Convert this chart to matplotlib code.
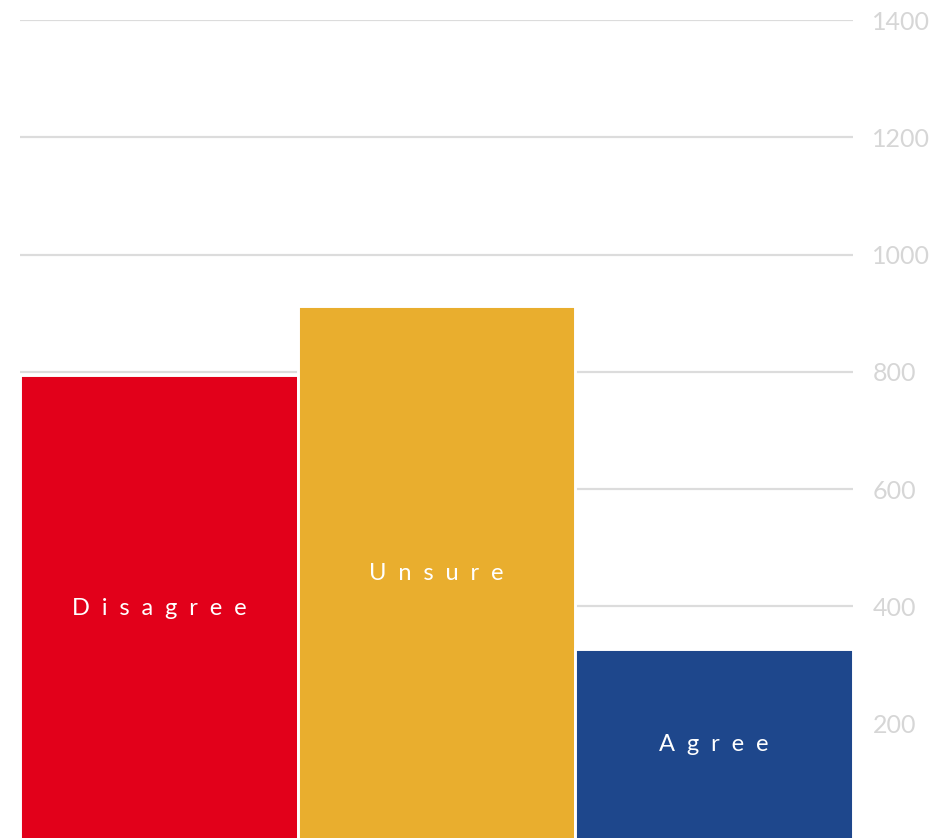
import matplotlib
matplotlib.use("Agg")
import matplotlib.pyplot as plt

categories = ["Disagree", "Unsure", "Agree"]
values = [794, 913, 328]
colors = ["#e2001a", "#e9ae2e", "#1e478c"]
yticks = [200, 400, 600, 800, 1000, 1200, 1400]

W, H = 945, 838
fig = plt.figure(figsize=(W / 100, H / 100), dpi=100)
# axes span x 20..853 px, y from 1400 at 20px down to 0 at ~841px
ax = fig.add_axes([20 / W, (H - 841) / H, 833 / W, 821 / H])

x = range(len(categories))
ax.bar(x, values, width=1.0, color=colors, edgecolor="white", linewidth=2.1, zorder=2)

# wide letter spacing, like the original labels
for i, (cat, v) in enumerate(zip(categories, values)):
    ax.text(i, v / 2, "\u2002".join(cat), color="white", ha="center", va="center",
            fontsize=17, family=["Lato", "DejaVu Sans"])

ax.set_xlim(-0.5, 2.5)
ax.set_ylim(0, 1400)
ax.set_yticks(yticks)
ax.set_yticklabels([str(t) for t in yticks])
ax.yaxis.tick_right()
ax.tick_params(axis="y", length=0, pad=14, labelsize=18, labelcolor="#d6d6d6")
for lab in ax.get_yticklabels():
    lab.set_family("Lato")
ax.set_xticks([])
ax.grid(axis="y", color="#dcdcdc", linewidth=1.6, zorder=0)
ax.set_axisbelow(True)
for s in ax.spines.values():
    s.set_visible(False)

fig.savefig("out.png", dpi=100)
